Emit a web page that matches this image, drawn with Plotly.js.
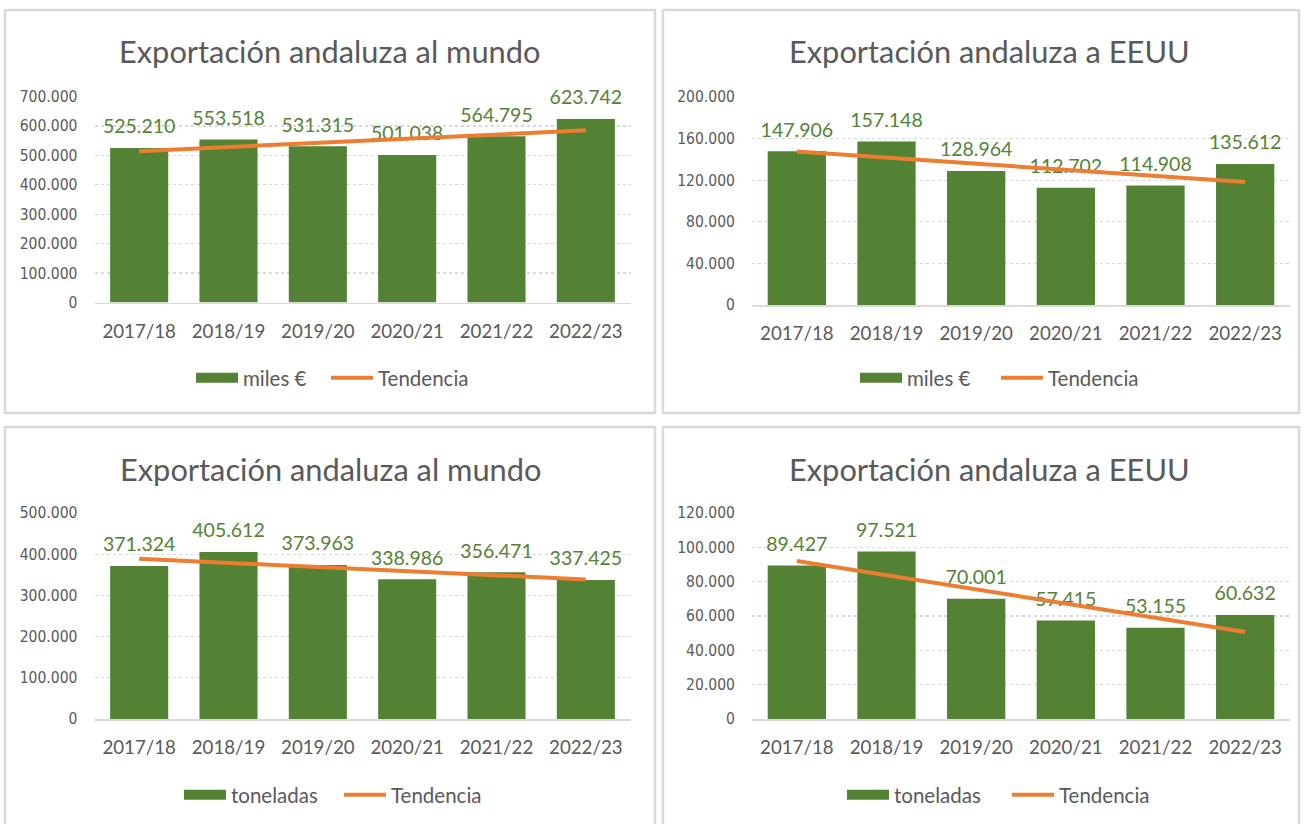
<!DOCTYPE html>
<html><head><meta charset="utf-8">
<script src="https://cdn.plot.ly/plotly-3.0.1.min.js"></script>
<style>html,body{margin:0;padding:0;background:#fff}#chart{width:1304px;height:824px}</style>
</head><body><div id="chart"></div><script>
// ---- data ----
const categories = ['2017/18','2018/19','2019/20','2020/21','2021/22','2022/23'];
const mundoEuros = [525210,553518,531315,501038,564795,623742];
const eeuuEuros  = [147906,157148,128964,112702,114908,135612];
const mundoTon   = [371324,405612,373963,338986,356471,337425];
const eeuuTon    = [89427,97521,70001,57415,53155,60632];
// linear trend ("Tendencia") end points, read at first and last category
const trendCats       = ['2017/18','2022/23'];
const mundoEurosTrend = [514000,585000];
const eeuuEurosTrend  = [147500,118300];
const mundoTonTrend   = [389000,338800];
const eeuuTonTrend    = [92000,50700];
const titles   = ['Exportación andaluza al mundo','Exportación andaluza a EEUU','Exportación andaluza al mundo','Exportación andaluza a EEUU'];
const barNames = ['miles €','miles €','toneladas','toneladas'];
const trendName = 'Tendencia';

// ---- layout geometry (pixels) ----
const W = 1304, H = 824;
const panels = [
  {bars: mundoEuros, trend: mundoEurosTrend, yMax: 700000, dtick: 100000,
   x0: 94.5, x1: 630.5, yTop: 96.5, yZero: 302.5, tx: 329, ty: 51, lg1: 196, lg2: 331, ly: 378, box: [5,10,655,413]},
  {bars: eeuuEuros, trend: eeuuEurosTrend, yMax: 200000, dtick: 40000,
   x0: 752, x1: 1290, yTop: 97, yZero: 305, tx: 989, ty: 51, lg1: 860, lg2: 1001, ly: 378, box: [663,10,1299,413]},
  {bars: mundoTon, trend: mundoTonTrend, yMax: 500000, dtick: 100000,
   x0: 94.5, x1: 630.5, yTop: 513, yZero: 719, tx: 330, ty: 469, lg1: 184, lg2: 344, ly: 795, box: [5,427,655,840]},
  {bars: eeuuTon, trend: eeuuTonTrend, yMax: 120000, dtick: 20000,
   x0: 752, x1: 1290, yTop: 513, yZero: 719, tx: 989, ty: 469, lg1: 847, lg2: 1012, ly: 795, box: [663,427,1299,840]}
];
const px = v => v / W;
const py = v => 1 - v / H;

const GREEN = '#548235', ORANGE = '#ED7D31', GREY = '#595959';
const FONT = 'Lato, "Open Sans", sans-serif';
const NARROW = '"Liberation Sans Narrow", "DejaVu Sans Condensed", Roboto, sans-serif';

const data = [];
const layout = {
  width: W, height: H,
  margin: {l: 0, r: 0, t: 0, b: 0},
  paper_bgcolor: '#fff', plot_bgcolor: 'rgba(0,0,0,0)',
  separators: ',.',
  bargap: 0.35,
  showlegend: true,
  annotations: [], shapes: []
};
const legendKey = k => (k === 1 ? 'legend' : 'legend' + k);
const legendBox = (x, y) => ({
  orientation: 'h', x: px(x - 5), xanchor: 'left', y: py(y), yanchor: 'middle',
  font: {family: FONT, size: 20.5, color: GREY},
  bgcolor: 'rgba(0,0,0,0)', itemwidth: 42
});

panels.forEach((p, i) => {
  const n = i + 1;
  const xa = n === 1 ? 'x' : 'x' + n, ya = n === 1 ? 'y' : 'y' + n;
  const xk = n === 1 ? 'xaxis' : 'xaxis' + n, yk = n === 1 ? 'yaxis' : 'yaxis' + n;
  const lgA = legendKey(2 * i + 1), lgB = legendKey(2 * i + 2);

  // bars
  data.push({
    type: 'bar', x: categories, y: p.bars, xaxis: xa, yaxis: ya,
    name: barNames[i], legend: lgA, showlegend: false,
    marker: {color: GREEN}, hoverinfo: 'x+y'
  });
  // data labels above bars
  data.push({
    type: 'scatter', mode: 'markers+text', x: categories, y: p.bars, xaxis: xa, yaxis: ya,
    name: barNames[i], legend: lgA, showlegend: false,
    marker: {size: 14, opacity: 0, color: GREEN},
    texttemplate: '%{y:,d}', textposition: 'top center',
    textfont: {family: FONT, size: 19.5, color: GREEN},
    cliponaxis: false, hoverinfo: 'skip'
  });
  // legend key for the bars (wide green block, as in the original)
  data.push({
    type: 'scatter', mode: 'lines', x: [null], y: [null], xaxis: xa, yaxis: ya,
    name: barNames[i], legend: lgA,
    line: {color: GREEN, width: 11}, hoverinfo: 'skip'
  });
  // trend line
  data.push({
    type: 'scatter', mode: 'lines', x: trendCats, y: p.trend, xaxis: xa, yaxis: ya,
    name: trendName, legend: lgB,
    line: {color: ORANGE, width: 4},
    cliponaxis: false
  });

  layout[xk] = {
    domain: [px(p.x0), px(p.x1)], anchor: ya,
    type: 'category', categoryorder: 'array', categoryarray: categories,
    showgrid: false, zeroline: false,
    showline: true, linecolor: '#d9d9d9', linewidth: 1.6,
    ticks: 'outside', ticklen: 11, tickcolor: 'rgba(0,0,0,0)',
    tickfont: {family: FONT, size: 18.7, color: GREY},
    fixedrange: true
  };
  layout[yk] = {
    domain: [py(p.yZero), py(p.yTop)], anchor: xa,
    range: [0, p.yMax], dtick: p.dtick, tick0: 0,
    tickformat: ',d',
    showgrid: true, gridcolor: '#d9d9d9', gridwidth: 1.2, griddash: 'dot',
    zeroline: false, showline: false,
    ticks: 'outside', ticklen: 13, tickcolor: 'rgba(0,0,0,0)',
    tickfont: {family: NARROW, size: 15.5, color: GREY},
    fixedrange: true
  };
  layout[lgA] = legendBox(p.lg1, p.ly);
  layout[lgB] = legendBox(p.lg2, p.ly);
  layout.annotations.push({
    xref: 'paper', yref: 'paper', x: px(p.tx), y: py(p.ty),
    xanchor: 'center', yanchor: 'middle', showarrow: false,
    text: titles[i], font: {family: FONT, size: 30.8, color: GREY}
  });
  layout.shapes.push({
    type: 'rect', xref: 'paper', yref: 'paper', layer: 'below',
    x0: px(p.box[0]), x1: px(p.box[2]), y0: py(p.box[3]), y1: py(p.box[1]),
    line: {color: '#d9d9d9', width: 2.5}, fillcolor: 'rgba(0,0,0,0)'
  });
});

Plotly.newPlot('chart', data, layout, {displayModeBar: false, staticPlot: true});
</script></body></html>
